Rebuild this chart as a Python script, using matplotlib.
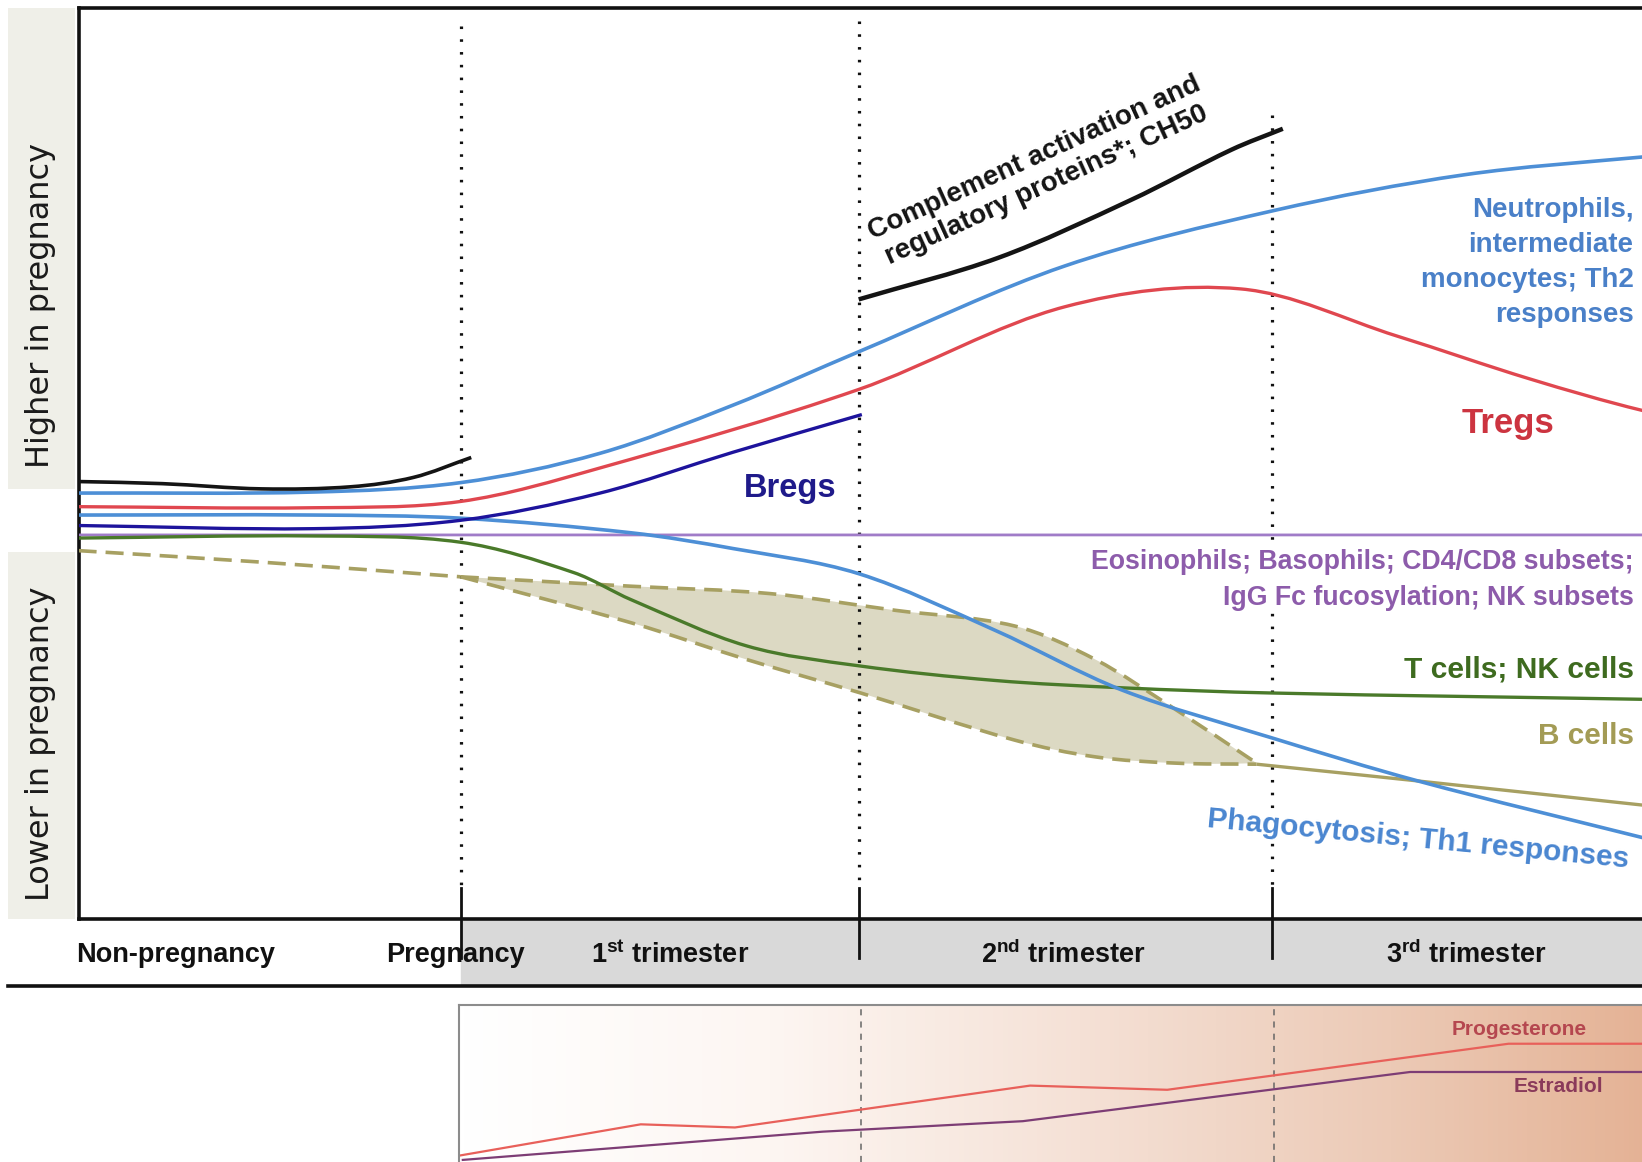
import numpy as np
import matplotlib.pyplot as plt
from matplotlib.path import Path
from matplotlib.patches import PathPatch, Rectangle
from matplotlib.colors import LinearSegmentedColormap

plt.rcParams['font.family'] = ['Liberation Sans', 'DejaVu Sans']
plt.rcParams['mathtext.fontset'] = 'custom'
plt.rcParams['mathtext.rm'] = 'Liberation Sans'
plt.rcParams['mathtext.bf'] = 'Liberation Sans:bold'

# --- time axis (arbitrary units, 0 = left edge of chart) ---
period_bounds = [36.5, 74.5, 114.0]          # pregnancy start, 1st/2nd, 2nd/3rd trimester
period_labels = ['Non-pregnancy', 'Pregnancy', r'1$^{\mathbf{st}}$ trimester',
                 r'2$^{\mathbf{nd}}$ trimester', r'3$^{\mathbf{rd}}$ trimester']
period_label_pos = [9.3, 36.0, 56.5, 94.0, 132.5]

# --- relative levels (0 = non-pregnant baseline) ---
complement_early_t = [0, 8, 17.5, 26, 32, 37.5]
complement_early_y = [5.0, 4.8, 4.3, 4.5, 5.4, 7.3]
complement_t = [74.5, 87.9, 100.5, 110.1, 115.0]
complement_y = [22.4, 26.4, 31.9, 36.7, 38.7]

neutro_t = [0, 22.5, 36.5, 49.8, 62.5, 74.5, 94.2, 114.2, 132.3, 149.3, 155]
neutro_y = [3.9, 4.0, 4.9, 7.7, 12.3, 17.4, 25.6, 30.9, 34.3, 36.0, 36.4]

tregs_t = [0, 22.5, 36.5, 49.8, 74.5, 94.2, 111.0, 125.9, 138.6, 149.3, 155]
tregs_y = [2.6, 2.5, 3.1, 6.3, 13.8, 21.7, 23.4, 18.9, 14.8, 11.8, 10.8]

bregs_t = [0, 22.5, 36.5, 49.8, 62.5, 74.8]
bregs_y = [0.8, 0.5, 1.3, 3.9, 7.8, 11.4]

phago_t = [0, 22.5, 36.5, 52.8, 62.5, 74.5, 87.5, 99.6, 114, 127.9, 149.3, 155]
phago_y = [1.8, 1.8, 1.5, 0.1, -1.4, -3.8, -9.2, -14.9, -19.5, -23.6, -29.0, -30.4]

eosino_t = [0, 155]
eosino_y = [-0.1, -0.1]

tcell_t = [0, 22.5, 36.5, 47.3, 52.8, 63.8, 74.5, 87.5, 99.6, 114, 149.3, 155]
tcell_y = [-0.4, -0.2, -0.8, -3.7, -6.3, -10.7, -12.6, -14.0, -14.7, -15.2, -15.8, -15.9]

bcell_early_t = [0, 17.5, 36.5]
bcell_early_y = [-1.6, -2.7, -4.1]
bcell_upper_t = [36.5, 52.8, 66.0, 78.0, 89.4, 97.1, 104.8, 112.5]
bcell_upper_y = [-4.1, -5.0, -5.7, -7.3, -8.8, -12.0, -16.8, -21.9]
bcell_lower_t = [36.5, 52.8, 63.8, 74.7, 89.4, 97.1, 104.8, 112.5]
bcell_lower_y = [-4.1, -8.5, -12.0, -15.2, -19.7, -21.3, -21.9, -22.0]
bcell_late_t = [112.5, 127.9, 149.3, 155]
bcell_late_y = [-22.0, -23.6, -25.9, -26.5]

# --- hormones (lower panel) ---
progesterone_t = [36.3, 53.7, 62.7, 90.9, 104.0, 136.6, 155]
progesterone_y = [0.6, 3.6, 3.3, 7.3, 6.9, 11.3, 11.3]
estradiol_t = [36.7, 71.1, 90.2, 127.2, 155]
estradiol_y = [0.2, 2.9, 3.9, 8.6, 8.6]

C_BLACK = '#141414'
C_BLUE = '#4d8fd6'
C_RED = '#e0474f'
C_NAVY = '#1d139c'
C_PURPLE = '#a07cc8'
C_GREEN = '#4a7a2a'
C_OLIVE = '#a7a062'


def smooth_path(xs, ys):
    """Cubic Hermite curve through the points (as bezier path, y as function of x)."""
    x = np.asarray(xs, float)
    y = np.asarray(ys, float)
    n = len(x)
    m = np.zeros(n)
    for i in range(n):
        lo, hi = max(i - 1, 0), min(i + 1, n - 1)
        m[i] = (y[hi] - y[lo]) / (x[hi] - x[lo])
    verts = [(x[0], y[0])]
    codes = [Path.MOVETO]
    for i in range(n - 1):
        dx = x[i + 1] - x[i]
        verts += [(x[i] + dx / 3, y[i] + m[i] * dx / 3),
                  (x[i + 1] - dx / 3, y[i + 1] - m[i + 1] * dx / 3),
                  (x[i + 1], y[i + 1])]
        codes += [Path.CURVE4] * 3
    return verts, codes


def draw_curve(ax, xs, ys, color, lw=2.4, ls='-', z=4):
    v, c = smooth_path(xs, ys)
    ax.add_patch(PathPatch(Path(v, c), fill=False, ec=color, lw=lw, ls=ls,
                           capstyle='butt', zorder=z))


fig = plt.figure(figsize=(16.42, 11.62), dpi=100)

# ---------------- main panel ----------------
ax = fig.add_axes([0.047832, 0.20901, 0.98852, 0.78378])
ax.set_zorder(3)
ax.set_xlim(0, 155)
ax.set_ylim(-36.8, 50.2)
ax.set_xticks([])
ax.set_yticks([])
for s in ['top', 'left', 'bottom']:
    ax.spines[s].set_linewidth(2.6)
    ax.spines[s].set_color('#111111')
ax.spines['right'].set_visible(False)

# B cell range band
uv, uc = smooth_path(bcell_upper_t, bcell_upper_y)
lv, lc = smooth_path(bcell_lower_t, bcell_lower_y)
lv_rev = lv[::-1]
band_verts = uv + lv_rev[1:] + [uv[0]]
band_codes = uc + [Path.CURVE4] * (len(lv_rev) - 1) + [Path.CLOSEPOLY]
ax.add_patch(PathPatch(Path(band_verts, band_codes), fc='#dcd9c3', ec='none', zorder=1))

# period separators
dot_tops = [48.5, 49.0, 40.0]
for t, top in zip(period_bounds, dot_tops):
    ax.plot([t, t], [top, -33.8], color='#111111', lw=2.3, ls=(0, (0.8, 3.2)), zorder=2)
    ax.plot([t, t], [-33.8, -36.8], color='#111111', lw=2.0, zorder=2)

draw_curve(ax, eosino_t, eosino_y, C_PURPLE, lw=2.0, z=3)
draw_curve(ax, bcell_early_t, bcell_early_y, C_OLIVE, lw=2.6, ls=(0, (5, 2.5)))
draw_curve(ax, bcell_upper_t, bcell_upper_y, C_OLIVE, lw=2.6, ls=(0, (5, 2.5)))
draw_curve(ax, bcell_lower_t, bcell_lower_y, C_OLIVE, lw=2.6, ls=(0, (5, 2.5)))
draw_curve(ax, bcell_late_t, bcell_late_y, C_OLIVE, lw=2.4)
draw_curve(ax, tcell_t, tcell_y, C_GREEN, lw=2.4)
draw_curve(ax, phago_t, phago_y, C_BLUE, lw=2.6)
draw_curve(ax, bregs_t, bregs_y, C_NAVY, lw=2.4)
draw_curve(ax, tregs_t, tregs_y, C_RED, lw=2.4)
draw_curve(ax, neutro_t, neutro_y, C_BLUE, lw=2.6)
draw_curve(ax, complement_early_t, complement_early_y, C_BLACK, lw=2.6)
draw_curve(ax, complement_t, complement_y, C_BLACK, lw=3.2)

# left side boxes
ax.add_patch(Rectangle((-6.7, 4.3), 6.4, 45.9, fc='#efefe8', ec='none', clip_on=False))
ax.add_patch(Rectangle((-6.7, -36.8), 6.4, 35.1, fc='#efefe8', ec='none', clip_on=False))
ax.text(-3.6, 21.8, 'Higher in pregnancy', rotation=90, ha='center', va='center',
        fontsize=23, family=['DejaVu Sans'], color='#1a1a1a', clip_on=False)
ax.text(-3.6, -20.0, 'Lower in pregnancy', rotation=90, ha='center', va='center',
        fontsize=23, family=['DejaVu Sans'], color='#1a1a1a', clip_on=False)

# labels
bold = dict(fontweight='bold')
white_box = dict(boxstyle='square,pad=0.05', fc='white', ec='none')
ax.text(91.9, 34.6, 'Complement activation and\nregulatory proteins*; CH50', rotation=24.5,
        rotation_mode='anchor', ha='center', va='center', fontsize=20, color=C_BLACK,
        linespacing=1.15, **bold)
ax.text(148.5, 25.9, 'Neutrophils,\nintermediate\nmonocytes; Th2\nresponses', ha='right',
        va='center', fontsize=20, color='#4a80c8', linespacing=1.45, **bold)
ax.text(136.5, 10.5, 'Tregs', ha='center', va='center', fontsize=25, color='#cc3440', **bold)
ax.text(68.0, 4.3, 'Bregs', ha='center', va='center', fontsize=23.5, color='#1f1a8a', **bold)
ax.text(148.5, -4.45, 'Eosinophils; Basophils; CD4/CD8 subsets;\nIgG Fc fucosylation; NK subsets',
        ha='right', va='center', fontsize=19.3, color='#8d5cab', linespacing=1.5,
        bbox=white_box, zorder=5, **bold)
ax.text(148.5, -13.0, 'T cells; NK cells', ha='right', va='center', fontsize=21.6,
        color='#3e6b1f', **bold)
ax.text(148.5, -19.3, 'B cells', ha='right', va='center', fontsize=21.4, color='#a39b55', **bold)
ax.text(127.9, -29.2, 'Phagocytosis; Th1 responses', rotation=-5.5, rotation_mode='anchor',
        ha='center', va='center', fontsize=21.5, color='#4a86d0', bbox=white_box,
        zorder=3, **bold)

# ---------------- time band ----------------
band = fig.add_axes([0.0051, 0.15135, 1.03125, 0.057658])
band.set_zorder(2)
band.set_xlim(-6.7, 155)
band.set_ylim(0, 1)
band.set_xticks([])
band.set_yticks([])
for s in ['top', 'left', 'right']:
    band.spines[s].set_visible(False)
band.spines['bottom'].set_linewidth(2.6)
band.spines['bottom'].set_color('#111111')
band.axvspan(period_bounds[0], 155, color='#d9d9d9', zorder=0)
for t in period_bounds:
    band.plot([t, t], [1, 0.42], color='#111111', lw=2.0, zorder=1)
for lab, t in zip(period_labels, period_label_pos):
    band.text(t, 0.47, lab, ha='center', va='center', fontsize=19.5, color='#111111', **bold)

# ---------------- hormone panel ----------------
hx = fig.add_axes([0.2793, 0.0, 0.7567, 0.1351])
hx.set_zorder(1)
hx.set_xlim(36.3, 155)
hx.set_ylim(0, 15)
hx.set_xticks([])
hx.set_yticks([])
for s in ['bottom', 'right']:
    hx.spines[s].set_visible(False)
for s in ['top', 'left']:
    hx.spines[s].set_color('#8c8c8c')
    hx.spines[s].set_linewidth(1.5)
peach = LinearSegmentedColormap.from_list('peach', ['#ffffff', '#fdf6f2', '#f5e1d6', '#eccab6', '#e3ad8e'])
hx.imshow(np.linspace(0, 1, 256).reshape(1, -1), extent=[36.3, 155, 0, 15], aspect='auto',
          cmap=peach, zorder=0)
for t in period_bounds[1:]:
    hx.plot([t + 0.2, t + 0.2], [0, 15], color='#666666', lw=1.1, ls=(0, (4, 4)), zorder=1)
hx.plot(progesterone_t, progesterone_y, color='#e8605a', lw=1.6, zorder=2)
hx.plot(estradiol_t, estradiol_y, color='#7d3d75', lw=1.6, zorder=2)
hx.text(131.2, 12.7, 'Progesterone', ha='left', va='center', fontsize=15,
        color='#b5474f', **bold)
hx.text(141.4, 7.2, 'Estradiol', ha='center', va='center', fontsize=15,
        color='#8a3a5a', **bold)

fig.savefig('out.png', dpi=100)
